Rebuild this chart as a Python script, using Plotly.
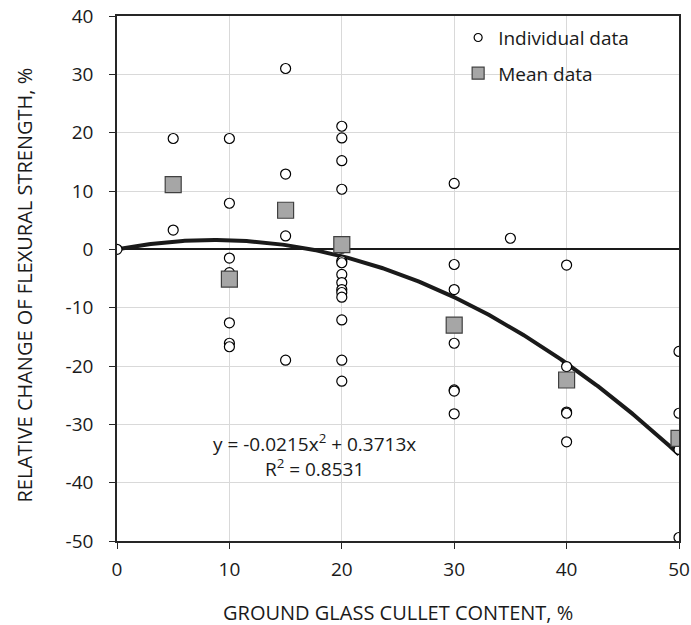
import numpy as np
import plotly.graph_objects as go

# Individual data
ind_x = [0, 5, 5, 10, 10, 10, 10, 10, 10, 10,
         15, 15, 15, 15,
         20, 20, 20, 20, 20, 20, 20, 20, 20, 20, 20, 20, 20, 20, 20,
         30, 30, 30, 30, 30, 30, 30,
         35,
         40, 40, 40, 40, 40,
         50, 50, 50, 50]
ind_y = [0, 19, 3.3, 19, 7.9, -1.5, -4, -12.6, -16.1, -16.7,
         31, 12.9, 2.3, -19,
         21.1, 19.1, 15.2, 10.3, 0.2, -2, -2.3, -4.3, -5.7, -6.9, -7.4, -8.2, -12.1, -19, -22.6,
         11.3, -2.6, -6.9, -16.1, -24.1, -24.3, -28.2,
         1.9,
         -2.7, -20.1, -27.9, -28.1, -33,
         -17.5, -28.1, -34.3, -49.4]

# Mean data
mean_x = [5, 10, 15, 20, 30, 40, 50]
mean_y = [11.1, -5.1, 6.7, 0.8, -13.0, -22.4, -32.4]

# Trendline coefficients (from chart label)
coef_a = -0.0215
coef_b = 0.3713

x_ticks = [0, 10, 20, 30, 40, 50]
x_ticktext = ["0", "10", "20", "30", "40", "50"]
y_ticks = [40, 30, 20, 10, 0, -10, -20, -30, -40, -50]
y_ticktext = ["40", "30", "20", "10", "0", "-10", "-20", "-30", "-40", "-50"]

font_family = "Open Sans, DejaVu Sans, sans-serif"
txt = "#1a1a1a"

tx = np.linspace(0, 50, 300)
ty = coef_a * tx**2 + coef_b * tx

fig = go.Figure()
fig.add_trace(go.Scatter(
    x=tx, y=ty, mode="lines", showlegend=False,
    line=dict(color="#1a1a1a", width=4), hoverinfo="skip"))
fig.add_trace(go.Scatter(
    x=ind_x, y=ind_y, mode="markers", name="Individual data", showlegend=False,
    marker=dict(symbol="circle", size=10, color="white",
                line=dict(color="black", width=1.2))))
fig.add_trace(go.Scatter(
    x=mean_x, y=mean_y, mode="markers", name="Mean data", showlegend=False,
    marker=dict(symbol="square", size=16, color="#a6a6a6",
                line=dict(color="#404040", width=1.2))))
# legend-only entries with smaller symbols, as in the reference legend
fig.add_trace(go.Scatter(
    x=[None], y=[None], mode="markers", name="Individual data", legendgroup="a",
    marker=dict(symbol="circle", size=8, color="white",
                line=dict(color="black", width=1.2))))
fig.add_trace(go.Scatter(
    x=[None], y=[None], mode="markers", name="Mean data", legendgroup="b",
    marker=dict(symbol="square", size=12, color="#a6a6a6",
                line=dict(color="#404040", width=1.2))))

fig.add_annotation(x=17.6, y=-35.3, xref="x", yref="y", showarrow=False,
                   align="center",
                   text="y = -0.0215x<sup>2</sup> + 0.3713x<br>R<sup>2</sup> = 0.8531",
                   font=dict(size=19, color=txt, family=font_family))

# Axis titles
fig.add_annotation(x=0, y=0.5, xref="paper", yref="paper", showarrow=False,
                   xanchor="center", yanchor="middle", xshift=-93, yshift=-7,
                   textangle=-90,
                   text="RELATIVE CHANGE OF FLEXURAL STRENGTH, %",
                   font=dict(size=20, color=txt, family=font_family))
fig.add_annotation(x=0.5, y=0, xref="paper", yref="paper", showarrow=False,
                   xanchor="center", yanchor="middle", yshift=-71,
                   text="GROUND GLASS CULLET CONTENT, %",
                   font=dict(size=20, color=txt, family=font_family))

fig.update_layout(
    width=691, height=625,
    margin=dict(l=117, r=12, t=16, b=84),
    plot_bgcolor="white", paper_bgcolor="white",
    font=dict(family=font_family, color=txt, size=19),
    legend=dict(x=0.607, y=0.995, xanchor="left", yanchor="top",
                bgcolor="rgba(0,0,0,0)", font=dict(size=19),
                tracegroupgap=8, itemwidth=30),
    xaxis=dict(range=[0, 50], tickvals=x_ticks, ticktext=x_ticktext, showgrid=True,
               gridcolor="#d9d9d9", gridwidth=1, automargin=False,
               showline=True, linecolor="#262626", linewidth=1.5, mirror=True,
               ticks="outside", ticklen=6, tickcolor="#262626",
               ticklabelstandoff=4,
               zeroline=False, tickfont=dict(size=19)),
    yaxis=dict(range=[-50, 40], tickvals=y_ticks, ticktext=y_ticktext, showgrid=True,
               gridcolor="#d9d9d9", gridwidth=1, automargin=False,
               showline=True, linecolor="#262626", linewidth=1.5, mirror=True,
               ticks="outside", ticklen=6, tickcolor="#262626",
               ticklabelstandoff=12,
               zeroline=True, zerolinecolor="#1a1a1a", zerolinewidth=1.5,
               tickfont=dict(size=19)),
)

fig.write_html("out.html", config={"displayModeBar": False},
               post_script="document.body.style.margin='0';document.body.style.overflow='hidden';")
